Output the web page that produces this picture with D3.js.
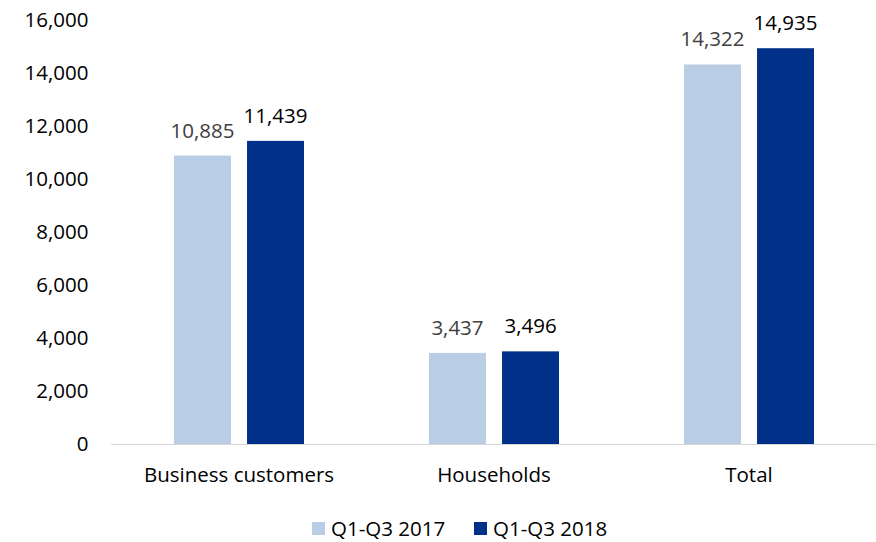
<!DOCTYPE html>
<html><head><meta charset="utf-8">
<script src="https://cdn.jsdelivr.net/npm/d3@7"></script>
<style>body{margin:0;background:#fff}svg{display:block}text{font-family:"Open Sans",Lato,sans-serif}</style>
</head><body><svg id="c" width="876" height="542"></svg>
<script>
const categories = ["Business customers", "Households", "Total"];
const seriesNames = ["Q1-Q3 2017", "Q1-Q3 2018"];
const values2017 = [10885, 3437, 14322];
const values2018 = [11439, 3496, 14935];
const yTicks = [0, 2000, 4000, 6000, 8000, 10000, 12000, 14000, 16000];
const colors = ["#B9CDE5", "#003087"];
const labelColors = ["#404040", "#000000"];
const FS = 20.5;

const svg = d3.select("#c");
const x0 = d3.scaleBand().domain(categories).range([111.5, 876.5]).paddingInner(0).paddingOuter(0);
const y = d3.scaleLinear().domain([0, 16000]).range([444, 20]);
const x1 = d3.scaleBand().domain(seriesNames).range([62.5, 192.5]).paddingInner(0.22);

const series = [values2017, values2018];

// y axis labels
svg.append("g").selectAll("text").data(yTicks).join("text")
  .attr("x", 88.5).attr("y", d => y(d)).attr("dy", "0.35em")
  .attr("text-anchor", "end").attr("font-size", FS).attr("fill", "#000")
  .text(d => d3.format(",")(d));

// baseline
svg.append("line").attr("x1", 111).attr("x2", 876).attr("y1", y(0)+0.5).attr("y2", y(0)+0.5)
  .attr("stroke", "#D9D9D9").attr("stroke-width", 1);

// bars
const g = svg.append("g");
categories.forEach((c, i) => {
  seriesNames.forEach((s, j) => {
    const v = series[j][i];
    const bx = x0(c) + x1(s);
    g.append("rect").attr("x", bx).attr("y", y(v)).attr("width", x1.bandwidth()).attr("height", y(0) - y(v))
      .attr("fill", colors[j]);
    g.append("text").attr("x", bx + x1.bandwidth()/2).attr("y", y(v) - 18)
      .attr("text-anchor", "middle").attr("font-size", FS).attr("fill", labelColors[j])
      .text(d3.format(",")(v));
  });
  svg.append("text").attr("x", x0(c) + x0.bandwidth()/2).attr("y", 482)
    .attr("text-anchor", "middle").attr("font-size", FS).attr("fill", "#000").text(c);
});

// legend
const legendX = [312, 474];
seriesNames.forEach((s, j) => {
  svg.append("rect").attr("x", legendX[j]).attr("y", 522).attr("width", 13).attr("height", 13).attr("fill", colors[j]);
  svg.append("text").attr("x", legendX[j] + 19).attr("y", 535.5).attr("font-size", FS).attr("fill", "#000").text(s);
});
</script></body></html>
